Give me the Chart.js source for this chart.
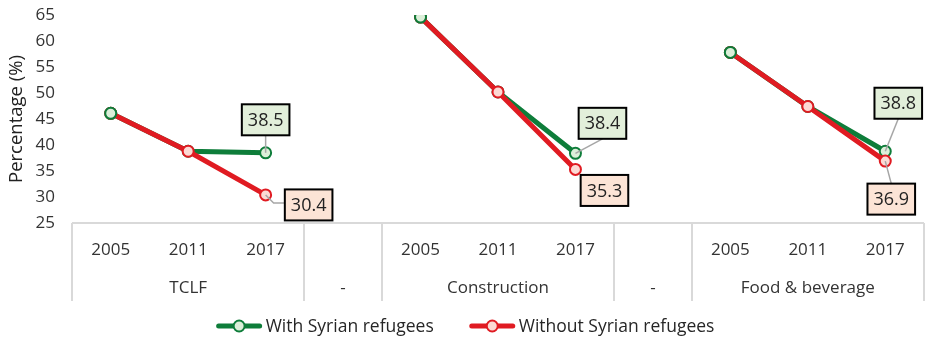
<!DOCTYPE html>
<html>
<head>
<meta charset="utf-8">
<script src="https://cdn.jsdelivr.net/npm/chart.js@4.4.0/dist/chart.umd.min.js"></script>
<style>
  html, body { margin: 0; padding: 0; background: #ffffff; }
  #wrap { width: 926px; height: 340px; }
</style>
</head>
<body>
<div id="wrap"><canvas id="c"></canvas></div>
<script>
// Year row and sector row of the category axis ("" / "-" slots separate the sectors)
const years  = ['2005', '2011', '2017', '', '2005', '2011', '2017', '', '2005', '2011', '2017'];
const groups = ['', 'TCLF', '', '-', '', 'Construction', '', '-', '', 'Food & beverage', ''];

// Share of employment (%) by sector and year
const withRefugees    = [46.1, 38.8, 38.5, null, 64.6, 50.2, 38.4, null, 57.8, 47.4, 38.8];
const withoutRefugees = [46.1, 38.8, 30.4, null, 64.6, 50.2, 35.3, null, 57.8, 47.4, 36.9];

const yTicks = [25, 30, 35, 40, 45, 50, 55, 60, 65];

const seriesNames = ['With Syrian refugees', 'Without Syrian refugees'];

const GREEN = '#0e7d3a', GREEN_FILL = '#dcefd9', GREEN_BOX = '#e2efda';
const RED = '#e01b22', RED_FILL = '#fcd9d4', RED_BOX = '#fce4d6';
const FONT = '"Open Sans", "Noto Sans", sans-serif';

// Opening-year markers sit above the overlapping lines
const firstYearMarkers = withRefugees.map((v, i) => (i === 0 || years[i - 1] === '') ? v : null);

// Callout placement for the 2017 values: box centre offset from the point, and leader anchor
const callouts = [
  { ds: 2, index: 2,  dx: 0,  dy: -33, anchor: 'bottom' },
  { ds: 1, index: 2,  dx: 43, dy: 10,  anchor: 'left' },
  { ds: 2, index: 6,  dx: 27, dy: -30, anchor: 'bottom' },
  { ds: 1, index: 6,  dx: 29, dy: 21,  anchor: 'none' },
  { ds: 2, index: 10, dx: 13, dy: -48, anchor: 'bottom' },
  { ds: 1, index: 10, dx: 6,  dy: 38,  anchor: 'top' }
];

const calloutPlugin = {
  id: 'callouts',
  afterDatasetsDraw(chart) {
    const ctx = chart.ctx;
    ctx.save();
    ctx.font = '18px ' + FONT;
    ctx.textAlign = 'center';
    ctx.textBaseline = 'middle';
    callouts.forEach(c => {
      const ds = chart.data.datasets[c.ds];
      const pt = chart.getDatasetMeta(c.ds).data[c.index];
      const value = ds.data[c.index];
      const text = value.toFixed(1);
      const w = ctx.measureText(text).width + 12;
      const h = 31;
      const cx = pt.x + c.dx, cy = pt.y + c.dy;
      const left = cx - w / 2, top = cy - h / 2;
      // leader line
      ctx.strokeStyle = '#a6a6a6';
      ctx.lineWidth = 1.5;
      ctx.beginPath();
      if (c.anchor === 'bottom') {
        ctx.moveTo(pt.x, pt.y); ctx.lineTo(cx, top + h);
      } else if (c.anchor === 'top') {
        ctx.moveTo(pt.x, pt.y); ctx.lineTo(cx, top);
      } else if (c.anchor === 'left') {
        ctx.moveTo(pt.x, pt.y); ctx.lineTo(pt.x + 8, cy - 2); ctx.lineTo(left, cy - 2);
      }
      ctx.stroke();
      // box
      ctx.fillStyle = c.ds === 2 ? GREEN_BOX : RED_BOX;
      ctx.fillRect(left, top, w, h);
      ctx.strokeStyle = '#000000';
      ctx.lineWidth = 2;
      ctx.strokeRect(left, top, w, h);
      ctx.fillStyle = '#222222';
      ctx.fillText(text, cx, cy + 1);
    });
    ctx.restore();
  }
};

// Table-style separators below the plot between sector blocks
const separatorPlugin = {
  id: 'separators',
  afterDraw(chart) {
    const x = chart.scales.x, x2 = chart.scales.x2;
    const ctx = chart.ctx;
    const xs = [chart.chartArea.left];
    for (let i = 0; i < years.length - 1; i++) {
      if (years[i] === '' || years[i + 1] === '') {
        xs.push((x.getPixelForValue(i) + x.getPixelForValue(i + 1)) / 2);
      }
    }
    xs.push(chart.chartArea.right);
    ctx.save();
    ctx.strokeStyle = '#d9d9d9';
    ctx.lineWidth = 2;
    ctx.beginPath();
    xs.forEach(px => {
      ctx.moveTo(Math.round(px), chart.chartArea.bottom);
      ctx.lineTo(Math.round(px), x2.bottom);
    });
    ctx.moveTo(chart.chartArea.left, chart.chartArea.bottom);
    ctx.lineTo(chart.chartArea.right, chart.chartArea.bottom);
    ctx.stroke();
    ctx.restore();
  }
};

// Legend with line-and-marker keys, centred under the axis
const legendPlugin = {
  id: 'lineLegend',
  afterDraw(chart) {
    const ctx = chart.ctx;
    const items = [chart.data.datasets[2], chart.data.datasets[1]];
    const keyW = 47, keyGap = 3, itemGap = 35;
    ctx.save();
    ctx.font = '17.5px ' + FONT;
    ctx.textBaseline = 'middle';
    const widths = items.map(d => keyW + keyGap + ctx.measureText(d.label).width);
    const total = widths.reduce((a, b) => a + b, 0) + itemGap * (items.length - 1);
    let xPos = (chart.width - total) / 2 + 2;
    const y = 326;
    items.forEach((d, i) => {
      ctx.strokeStyle = d.borderColor;
      ctx.lineWidth = 5;
      ctx.lineCap = 'round';
      ctx.beginPath();
      ctx.moveTo(xPos + 3, y); ctx.lineTo(xPos + keyW - 3, y);
      ctx.stroke();
      ctx.beginPath();
      ctx.arc(xPos + keyW / 2, y, 5.5, 0, Math.PI * 2);
      ctx.fillStyle = d.pointBackgroundColor;
      ctx.fill();
      ctx.lineWidth = 2;
      ctx.stroke();
      ctx.fillStyle = '#262626';
      ctx.textAlign = 'left';
      ctx.fillText(d.label, xPos + keyW + keyGap, y + 1);
      xPos += widths[i] + itemGap;
    });
    ctx.restore();
  }
};

// Remove the automatic label overhang so the plot area is set by the layout padding
const noOverhang = s => { s.paddingTop = 0; s.paddingBottom = 0; s.paddingLeft = 0; s.paddingRight = 0; };

new Chart(document.getElementById('c'), {
  type: 'line',
  data: {
    labels: years,
    datasets: [
      {
        label: 'markers',
        data: firstYearMarkers,
        showLine: false,
        borderColor: GREEN,
        pointBackgroundColor: GREEN_FILL,
        pointBorderColor: GREEN,
        pointRadius: 5.5,
        pointBorderWidth: 2
      },
      {
        label: seriesNames[1],
        data: withoutRefugees,
        borderColor: RED,
        backgroundColor: RED,
        borderWidth: 5,
        pointBackgroundColor: RED_FILL,
        pointBorderColor: RED,
        pointRadius: 5.5,
        pointBorderWidth: 2,
        tension: 0
      },
      {
        label: seriesNames[0],
        data: withRefugees,
        borderColor: GREEN,
        backgroundColor: GREEN,
        borderWidth: 5,
        pointBackgroundColor: GREEN_FILL,
        pointBorderColor: GREEN,
        pointRadius: 5.5,
        pointBorderWidth: 2,
        tension: 0
      }
    ]
  },
  options: {
    responsive: true,
    maintainAspectRatio: false,
    animation: false,
    layout: { autoPadding: false, padding: { left: 0, right: 2, top: 15, bottom: 39 } },
    plugins: {
      legend: { display: false },
      tooltip: { enabled: false }
    },
    scales: {
      y: {
        min: 25,
        max: 65,
        afterBuildTicks: s => { s.ticks = yTicks.map(v => ({ value: v })); },
        afterFit: s => { s.width = 72; noOverhang(s); },
        grid: { display: false, drawTicks: false },
        border: { display: false },
        ticks: { padding: 17, color: '#333333', font: { family: FONT, size: 17 } },
        title: {
          display: true,
          text: 'Percentage (%)',
          color: '#222222',
          font: { family: FONT, size: 18.5 },
          padding: { top: 6, bottom: 0 }
        }
      },
      x: {
        offset: true,
        afterFit: s => { s.height = 44; noOverhang(s); },
        grid: { display: false, drawTicks: false },
        border: { display: false },
        ticks: { padding: 17, maxRotation: 0, autoSkip: false, color: '#333333', font: { family: FONT, size: 17 } }
      },
      x2: {
        type: 'category',
        labels: groups,
        position: 'bottom',
        offset: true,
        afterFit: s => { s.height = 34; noOverhang(s); },
        grid: { display: false, drawTicks: false },
        border: { display: false },
        ticks: { padding: 11, maxRotation: 0, autoSkip: false, color: '#333333', font: { family: FONT, size: 17 } }
      }
    }
  },
  plugins: [calloutPlugin, separatorPlugin, legendPlugin]
});
</script>
</body>
</html>
